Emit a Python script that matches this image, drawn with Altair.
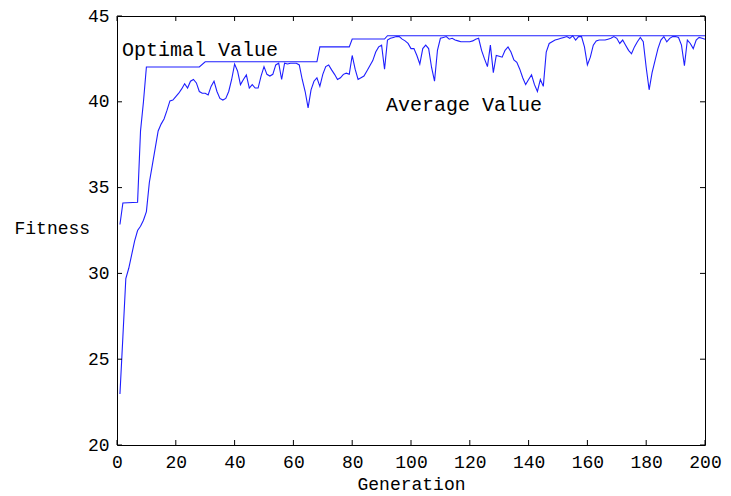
import altair as alt
import pandas as pd

# ---- data ----
generation = list(range(1, 201))
average_value = [
    22.97, 26.3, 29.7, 30.3, 31.1, 31.9, 32.5, 32.75, 33.1, 33.6,
    35.3, 36.3, 37.3, 38.3, 38.7, 39.0, 39.5, 40.05, 40.1, 40.3,
    40.5, 40.75, 41.05, 40.8, 41.2, 41.3, 41.1, 40.6, 40.5, 40.5,
    40.4, 40.9, 41.2, 40.6, 40.2, 40.1, 40.2, 40.6, 41.3, 42.2,
    41.8, 41.0, 41.3, 41.57, 40.8, 41.0, 40.8, 40.8, 41.5, 42.05,
    41.6, 41.5, 41.6, 42.15, 42.25, 41.3, 42.25, 42.2, 42.25, 42.25,
    42.25, 42.15, 41.3, 40.6, 39.65, 40.7, 41.2, 41.4, 40.9, 41.6,
    42.05, 42.15, 41.86, 41.6, 41.3, 41.4, 41.6, 41.67, 41.6, 42.7,
    41.9, 41.3, 41.4, 41.5, 41.8, 42.1, 42.4, 42.9, 43.2, 43.3,
    41.9, 43.6, 43.7, 43.75, 43.8, 43.8, 43.65, 43.55, 43.4, 43.1,
    43.1, 42.7, 42.2, 43.1, 43.3, 43.1, 42.0, 41.2, 43.0, 43.7,
    43.75, 43.8, 43.65, 43.7, 43.6, 43.55, 43.5, 43.5, 43.5, 43.5,
    43.55, 43.65, 43.7, 43.0, 42.5, 42.05, 43.3, 41.7, 42.7, 42.65,
    42.6, 43.0, 43.2, 42.9, 42.44, 42.3, 41.9, 41.4, 41.0, 41.3,
    41.57, 41.0, 40.6, 41.3, 40.9, 42.9, 43.4, 43.5, 43.6, 43.65,
    43.7, 43.75, 43.8, 43.7, 43.85, 43.6, 43.8, 43.8, 43.2, 42.15,
    42.6, 43.3, 43.55, 43.6, 43.6, 43.6, 43.65, 43.7, 43.8, 43.7,
    43.4, 43.6, 43.3, 43.0, 42.8, 43.2, 43.5, 43.75, 43.5, 42.0,
    40.7, 41.7, 42.4, 43.1, 43.6, 43.8, 43.5, 43.7, 43.8, 43.8,
    43.75, 43.3, 42.1, 43.6, 43.4, 43.1, 43.6, 43.75, 43.7, 43.65,
]

# optimal value: vertices of the step line
optimal_gen = [1, 2, 7, 8, 9, 10, 28, 30, 68, 69, 79, 80, 91, 92, 200]
optimal_value = [32.85, 34.1, 34.15, 38.3, 40.0, 42.03, 42.03, 42.33, 42.33,
                 43.2, 43.2, 43.66, 43.66, 43.85, 43.85]

x_ticks = [0, 20, 40, 60, 80, 100, 120, 140, 160, 180, 200]
y_ticks = [20, 25, 30, 35, 40, 45]

label_text = ["Optimal Value", "Average Value"]
label_x = [1.7, 91.5]
label_y = [43.02, 39.83]

# ---- chart ----
W, H = 588, 429
FONT = "Liberation Mono"
BLUE = "#1e1eff"

xs = alt.Scale(domain=[0, 200], nice=False, zero=False)
ys = alt.Scale(domain=[20, 45], nice=False, zero=False)

x_axis = alt.Axis(values=x_ticks, ticks=False, domain=False, grid=False,
                  labelPadding=8, titlePadding=4, labelFlush=False)
y_axis = alt.Axis(values=y_ticks, ticks=False, domain=False, grid=False,
                  labelPadding=8, titleAngle=0, titleAlign="left",
                  titleBaseline="middle", titleX=-103, titleY=212)


def X(field):
    return alt.X(field, type="quantitative", scale=xs, axis=x_axis, title="Generation")


def Y(field):
    return alt.Y(field, type="quantitative", scale=ys, axis=y_axis, title="Fitness")


avg_df = pd.DataFrame({"g": generation, "v": average_value})
opt_df = pd.DataFrame({"g": optimal_gen, "v": optimal_value})
xt_df = pd.DataFrame({"g": x_ticks})
yt_df = pd.DataFrame({"v": y_ticks})
lab_df = pd.DataFrame({"g": label_x, "v": label_y, "t": label_text})

avg_line = alt.Chart(avg_df).mark_line(color=BLUE, strokeWidth=1.1).encode(
    x=X("g"), y=Y("v"))
opt_line = alt.Chart(opt_df).mark_line(color=BLUE, strokeWidth=1.1).encode(
    x=X("g"), y=Y("v"))

tick_style = dict(color="black", strokeWidth=1)
bottom_ticks = alt.Chart(xt_df).mark_rule(**tick_style).encode(
    x=X("g"), y=alt.value(H), y2=alt.value(H - 5))
top_ticks = alt.Chart(xt_df).mark_rule(**tick_style).encode(
    x=X("g"), y=alt.value(0), y2=alt.value(5))
left_ticks = alt.Chart(yt_df).mark_rule(**tick_style).encode(
    y=Y("v"), x=alt.value(0), x2=alt.value(5))
right_ticks = alt.Chart(yt_df).mark_rule(**tick_style).encode(
    y=Y("v"), x=alt.value(W), x2=alt.value(W - 5))

labels = alt.Chart(lab_df).mark_text(
    align="left", baseline="middle", font=FONT, fontSize=20, color="black"
).encode(x=X("g"), y=Y("v"), text="t:N")

chart = alt.layer(
    avg_line, opt_line, bottom_ticks, top_ticks, left_ticks, right_ticks, labels
).properties(
    width=W, height=H,
    autosize=alt.AutoSizeParams(type="none"),
    padding={"left": 117, "top": 16, "right": 26, "bottom": 51},
    background="white",
).configure_view(
    stroke="black", strokeWidth=1
).configure_axis(
    labelFont=FONT, labelFontSize=18, labelColor="black",
    titleFont=FONT, titleFontSize=18, titleFontWeight="normal", titleColor="black",
)

chart.save("out.html", embed_options={"renderer": "svg", "actions": False})
